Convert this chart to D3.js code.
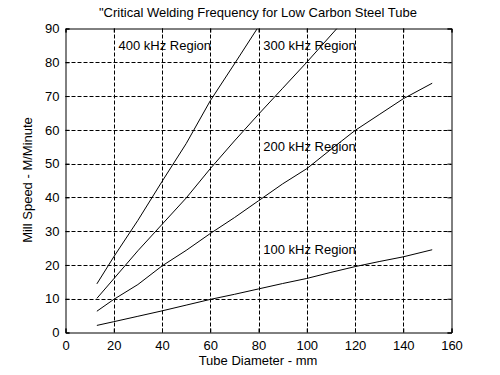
<!DOCTYPE html>
<html>
<head>
<meta charset="utf-8">
<script src="https://cdn.jsdelivr.net/npm/d3@7"></script>
<style>
  html, body { margin: 0; padding: 0; background: #fff; }
  svg { display: block; }
  text { font-family: "Liberation Sans", Arial, sans-serif; fill: #000; }
</style>
</head>
<body>
<svg id="chart" width="500" height="375"></svg>
<script>
const titleText = "\"Critical Welding Frequency for Low Carbon Steel Tube";
const xLabel = "Tube Diameter - mm";
const yLabel = "Mill Speed - M/Minute";
const xTicks = [0, 20, 40, 60, 80, 100, 120, 140, 160];
const yTicks = [0, 10, 20, 30, 40, 50, 60, 70, 80, 90];

const diam100 = [13, 20, 30, 40, 50, 60, 70, 80, 90, 100, 110, 120, 130, 140, 152];
const speed100 = [2.1, 3.2, 4.8, 6.4, 8.1, 9.8, 11.3, 12.9, 14.5, 16.0, 17.8, 19.5, 21.0, 22.4, 24.5];

const diam200 = [13, 20, 30, 40, 50, 60, 70, 80, 90, 100, 110, 120, 130, 140, 152];
const speed200 = [6.3, 9.8, 14.2, 19.7, 24.3, 29.3, 34.0, 39.0, 44.0, 48.5, 54.2, 59.8, 64.5, 69.2, 73.8];

const diam300 = [13, 20, 30, 40, 50, 60, 70, 80, 90, 100, 112.5];
const speed300 = [10.1, 15.9, 24.2, 32.0, 39.8, 48.5, 56.7, 64.6, 72.3, 80.0, 90.0];

const diam400 = [13, 20, 30, 40, 50, 60, 70, 79.5];
const speed400 = [14.4, 22.4, 33.2, 44.7, 55.9, 68.6, 79.5, 90.0];

const regionLabels = ["400 kHz Region", "300 kHz Region", "200 kHz Region", "100 kHz Region"];
const regionX = [22, 82, 82, 82];
const regionY = [83.5, 83.5, 53.6, 23.3];

const svg = d3.select("#chart");
const L = 65.5, R = 451.5, T = 28.5, B = 332.5;
const x = d3.scaleLinear().domain([0, 160]).range([L, R]);
const y = d3.scaleLinear().domain([0, 90]).range([B, T]);

// grid
const grid = svg.append("g");
grid.selectAll(".vg").data(xTicks.slice(1, -1)).enter().append("line")
  .attr("x1", d => Math.round(x(d)) + 0.5).attr("x2", d => Math.round(x(d)) + 0.5)
  .attr("y1", T).attr("y2", B)
  .attr("stroke", "#000").attr("stroke-width", 1).attr("stroke-dasharray", "4,2");
grid.selectAll(".hg").data(yTicks.slice(1, -1)).enter().append("line")
  .attr("y1", d => Math.round(y(d)) + 0.5).attr("y2", d => Math.round(y(d)) + 0.5)
  .attr("x1", L).attr("x2", R)
  .attr("stroke", "#000").attr("stroke-width", 1).attr("stroke-dasharray", "4,2");

// axes
const xAxis = d3.axisBottom(x).tickValues(xTicks).tickSize(-4).tickPadding(6).tickFormat(d3.format("d"));
const yAxis = d3.axisLeft(y).tickValues(yTicks).tickSize(-4).tickPadding(6).tickFormat(d3.format("d"));
const gx = svg.append("g").attr("transform", `translate(0,${B})`).call(xAxis);
const gy = svg.append("g").attr("transform", `translate(${L},0)`).call(yAxis);
svg.append("g").attr("transform", `translate(0,${T})`)
  .call(d3.axisTop(x).tickValues(xTicks).tickSize(-4).tickFormat(""));
svg.append("g").attr("transform", `translate(${R},0)`)
  .call(d3.axisRight(y).tickValues(yTicks).tickSize(-4).tickFormat(""));
svg.selectAll(".domain").attr("stroke", "#000").attr("stroke-width", 1);
svg.selectAll(".tick line").attr("stroke", "#000").attr("stroke-width", 1);
svg.selectAll(".tick text").style("font-family", "Liberation Sans, Arial, sans-serif")
  .style("font-size", "13px").attr("fill", "#000");
gx.selectAll(".tick text").attr("dy", "0.85em");

// lines
svg.append("clipPath").attr("id", "clip").append("rect")
  .attr("x", L).attr("y", T).attr("width", R - L).attr("height", B - T);
const line = d3.line().x(d => x(d[0])).y(d => y(d[1]));
const series = [
  d3.zip(diam100, speed100),
  d3.zip(diam200, speed200),
  d3.zip(diam300, speed300),
  d3.zip(diam400, speed400)
];
svg.append("g").attr("clip-path", "url(#clip)").selectAll("path").data(series).enter().append("path")
  .attr("d", line).attr("fill", "none").attr("stroke", "#000").attr("stroke-width", 1);

// region labels
svg.selectAll(".rl").data(regionLabels).enter().append("text")
  .attr("x", (d, i) => x(regionX[i])).attr("y", (d, i) => y(regionY[i]))
  .style("font-size", "13px").text(d => d);

// title and labels
svg.append("text").attr("x", 258).attr("y", 17).attr("text-anchor", "middle")
  .style("font-size", "13px").text(titleText);
svg.append("text").attr("x", 258).attr("y", 365).attr("text-anchor", "middle")
  .style("font-size", "13px").text(xLabel);
svg.append("text").attr("transform", "translate(32,180) rotate(-90)").attr("text-anchor", "middle")
  .style("font-size", "13px").text(yLabel);
</script>
</body>
</html>
